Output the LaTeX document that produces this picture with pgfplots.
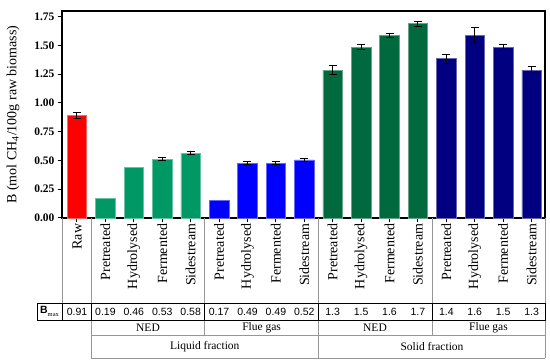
\documentclass[border=0pt]{standalone}
\usepackage{fontspec}
\setmainfont{Liberation Serif}
\newfontfamily\arial{Liberation Sans}
\usepackage{pgfplots}
\pgfplotsset{compat=1.18}
\definecolor{cRaw}{RGB}{255,0,0}
\definecolor{cNedL}{RGB}{0,153,102}
\definecolor{cFlueL}{RGB}{0,0,255}
\definecolor{cNedS}{RGB}{0,105,62}
\definecolor{cFlueS}{RGB}{0,0,128}
\definecolor{lineGray}{RGB}{150,150,150}
\begin{document}
\begin{tikzpicture}
\useasboundingbox (-62pt,-145pt) rectangle (488pt,218pt);
\begin{axis}[
  at={(0,0)}, anchor=south west,
  scale only axis, width=483pt, height=207pt,
  xmin=-0.528, xmax=16.472, ymin=0, ymax=1.8,
  ybar, bar width=19.5pt, bar shift=0pt,
  clip=false,
  ytick={0,0.25,0.5,0.75,1,1.25,1.5,1.75},
  yticklabel style={/pgf/number format/fixed, /pgf/number format/fixed zerofill, /pgf/number format/precision=2, /pgf/number format/assume math mode=true, font=\fontsize{11.5}{11.5}\selectfont\bfseries},
  xtick={0,...,16},
  xticklabels={Raw,Pretreated,Hydrolysed,Fermented,Sidestream,Pretreated,Hydrolysed,Fermented,Sidestream,Pretreated,Hydrolysed,Fermented,Sidestream,Pretreated,Hydrolysed,Fermented,Sidestream},
  xticklabel style={rotate=90, anchor=east, font=\fontsize{14}{14}\selectfont, inner sep=1.5pt},
  tick align=outside, xtick pos=lower, ytick pos=left,
  major tick length=4pt,
  tick style={line width=1pt, black},
  axis line style={line width=1.3pt},
  every axis y label/.style={at={(axis description cs:-0.1014,0.5)}, rotate=90, anchor=center},
  ylabel={B (mol CH\textsubscript{4}/100g raw biomass)},
  ylabel style={font=\fontsize{14}{14}\selectfont},
  error bars/y dir=both, error bars/y explicit,
  error bars/error mark options={rotate=90, mark size=4pt, line width=1pt, black},
  error bars/error bar style={line width=1pt, black},
]
\addplot[fill=cRaw, draw=cRaw!60!white, line width=0.6pt] coordinates {(0,0.894) +- (0,0.026)};
\addplot[fill=cNedL, draw=cNedL!60!white, line width=0.6pt, error bars/y dir=none] coordinates {(1,0.171) (2,0.441)};
\addplot[fill=cNedL, draw=cNedL!60!white, line width=0.6pt] coordinates {(3,0.513) +- (0,0.015) (4,0.563) +- (0,0.012)};
\addplot[fill=cFlueL, draw=cFlueL!60!white, line width=0.6pt, error bars/y dir=none] coordinates {(5,0.157)};
\addplot[fill=cFlueL, draw=cFlueL!60!white, line width=0.6pt] coordinates {(6,0.476) +- (0,0.013) (7,0.476) +- (0,0.013) (8,0.505) +- (0,0.015)};
\addplot[fill=cNedS, draw=cNedS!60!white, line width=0.6pt] coordinates {(9,1.285) +- (0,0.037) (10,1.486) +- (0,0.025) (11,1.587) +- (0,0.02) (12,1.69) +- (0,0.022)};
\addplot[fill=cFlueS, draw=cFlueS!60!white, line width=0.6pt] coordinates {(13,1.386) +- (0,0.04) (14,1.587) +- (0,0.07) (15,1.486) +- (0,0.02) (16,1.285) +- (0,0.03)};
% Bmax values
\begin{scope}[every node/.style={font=\arial\fontsize{10.5}{10.5}\selectfont, anchor=center}]
\node at (axis cs:0,-0.813) {0.91};
\node at (axis cs:1,-0.813) {0.19};
\node at (axis cs:2,-0.813) {0.46};
\node at (axis cs:3,-0.813) {0.53};
\node at (axis cs:4,-0.813) {0.58};
\node at (axis cs:5,-0.813) {0.17};
\node at (axis cs:6,-0.813) {0.49};
\node at (axis cs:7,-0.813) {0.49};
\node at (axis cs:8,-0.813) {0.52};
\node at (axis cs:9,-0.813) {1.3};
\node at (axis cs:10,-0.813) {1.5};
\node at (axis cs:11,-0.813) {1.6};
\node at (axis cs:12,-0.813) {1.7};
\node at (axis cs:13,-0.813) {1.4};
\node at (axis cs:14,-0.813) {1.6};
\node at (axis cs:15,-0.813) {1.5};
\node at (axis cs:16,-0.813) {1.3};
\end{scope}
\end{axis}
% grouping lines
\begin{scope}[lineGray, line width=0.8pt]
\draw (0,0) -- (0,-85pt);
\draw (29.2pt,0) -- (29.2pt,-140pt);
\draw (142.8pt,0) -- (142.8pt,-117pt);
\draw (256.5pt,0) -- (256.5pt,-140pt);
\draw (370pt,0) -- (370pt,-117pt);
\draw (483pt,0) -- (483pt,-140pt);
\draw (29.2pt,-117pt) -- (483pt,-117pt);
\draw (29.2pt,-140pt) -- (483pt,-140pt);
\end{scope}
\begin{scope}[black, line width=0.8pt]
\draw (-25pt,-85pt) rectangle (483pt,-102pt);
\draw (0,-85pt) -- (0,-102pt);
\draw (29.2pt,-85pt) -- (29.2pt,-102pt);
\draw (142.8pt,-85pt) -- (142.8pt,-102pt);
\draw (256.5pt,-85pt) -- (256.5pt,-102pt);
\draw (370pt,-85pt) -- (370pt,-102pt);
\end{scope}
\node[font=\arial\fontsize{10.5}{10.5}\selectfont\bfseries] at (-12.5pt,-93.5pt) {B\raisebox{-0.45ex}{\normalfont\fontsize{6.5}{6.5}\selectfont max}};
\begin{scope}[every node/.style={font=\fontsize{11.5}{11.5}\selectfont, anchor=center}]
\node at (86pt,-109.5pt) {NED};
\node at (199.6pt,-109.5pt) {Flue gas};
\node at (313pt,-109.5pt) {NED};
\node at (426.5pt,-109.5pt) {Flue gas};
\node at (142.8pt,-128.5pt) {Liquid fraction};
\node at (370pt,-128.5pt) {Solid fraction};
\end{scope}
\end{tikzpicture}
\end{document}
